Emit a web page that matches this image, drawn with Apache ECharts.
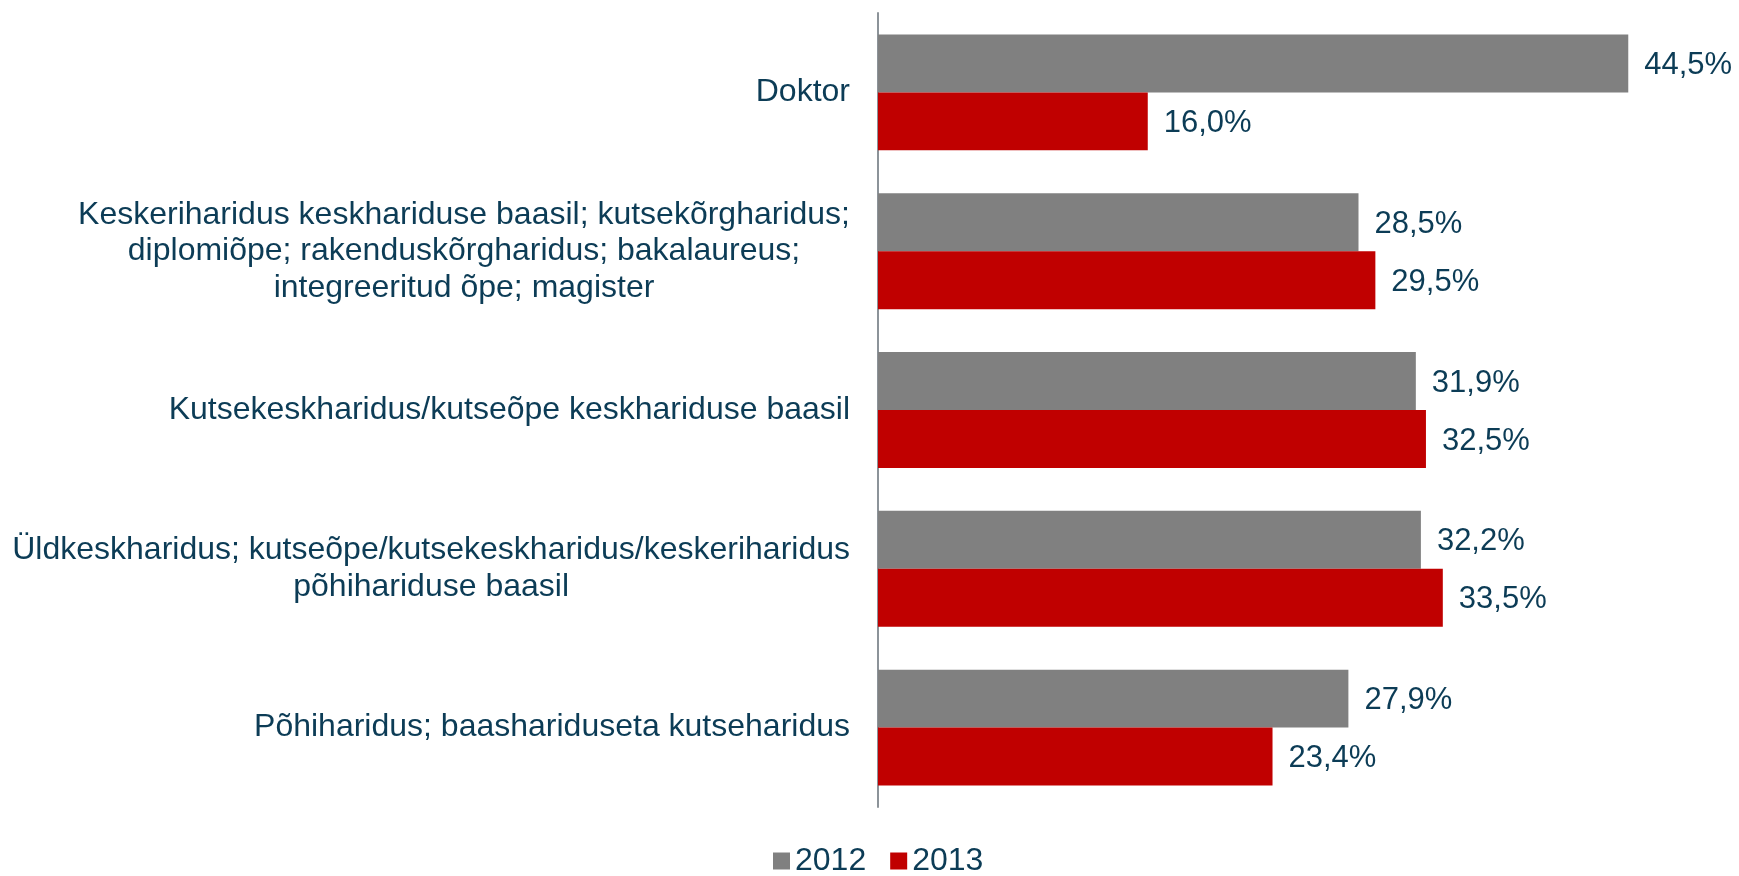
<!DOCTYPE html>
<html>
<head>
<meta charset="utf-8">
<script src="https://cdn.jsdelivr.net/npm/echarts@6/dist/echarts.min.js"></script>
<style>
  html, body { margin: 0; padding: 0; background: #fff; }
  #chart { width: 1739px; height: 876px; }
</style>
</head>
<body>
<div id="chart"></div>
<script>
const categories = [
  'Doktor',
  'Keskeriharidus keskhariduse baasil; kutsekõrgharidus;\ndiplomiõpe; rakenduskõrgharidus; bakalaureus;\nintegreeritud õpe; magister',
  'Kutsekeskharidus/kutseõpe keskhariduse baasil',
  'Üldkeskharidus; kutseõpe/kutsekeskharidus/keskeriharidus\npõhihariduse baasil',
  'Põhiharidus; baashariduseta kutseharidus'
];
const values2012 = [44.5, 28.5, 31.9, 32.2, 27.9];
const values2013 = [16.0, 29.5, 32.5, 33.5, 23.4];

const textColor = '#0c3c56';
const font = 'Arial, "Liberation Sans", sans-serif';

const chart = echarts.init(document.getElementById('chart'));

const pct = p => p.value.toFixed(1).replace('.', ',') + '%';

chart.setOption({
  animation: false,
  textStyle: { fontFamily: font },
  grid: { left: 878, right: 18, top: 13, bottom: 69, containLabel: false },
  legend: {
    data: ['2012', '2013'],
    top: 845,
    left: 773,
    padding: 0,
    icon: 'rect',
    itemWidth: 17,
    itemHeight: 17,
    itemGap: 24,
    textStyle: { color: textColor, fontSize: 32, fontFamily: font }
  },
  xAxis: {
    type: 'value',
    min: 0,
    max: 50,
    show: false
  },
  yAxis: {
    type: 'category',
    inverse: true,
    data: categories,
    axisLine: { show: true, lineStyle: { color: '#8c9399', width: 2 } },
    axisTick: { show: false },
    axisLabel: {
      margin: 28,
      formatter: v => v.split('\n').map(l => '{c|' + l + '}').join('\n'),
      rich: {
        c: {
          align: 'center',
          color: textColor,
          fontSize: 32,
          lineHeight: 36.5,
          fontFamily: font
        }
      }
    }
  },
  series: [
    {
      name: '2012',
      type: 'bar',
      data: values2012,
      barGap: '0%',
      barCategoryGap: '27%',
      itemStyle: { color: '#808080' },
      label: {
        show: true, position: 'right', distance: 16, offset: [0, 2],
        formatter: pct, color: textColor, fontSize: 31, fontFamily: font
      }
    },
    {
      name: '2013',
      type: 'bar',
      data: values2013,
      barGap: '0%',
      barCategoryGap: '27%',
      itemStyle: { color: '#c00000' },
      label: {
        show: true, position: 'right', distance: 16, offset: [0, 2],
        formatter: pct, color: textColor, fontSize: 31, fontFamily: font
      }
    }
  ]
});
</script>
</body>
</html>
